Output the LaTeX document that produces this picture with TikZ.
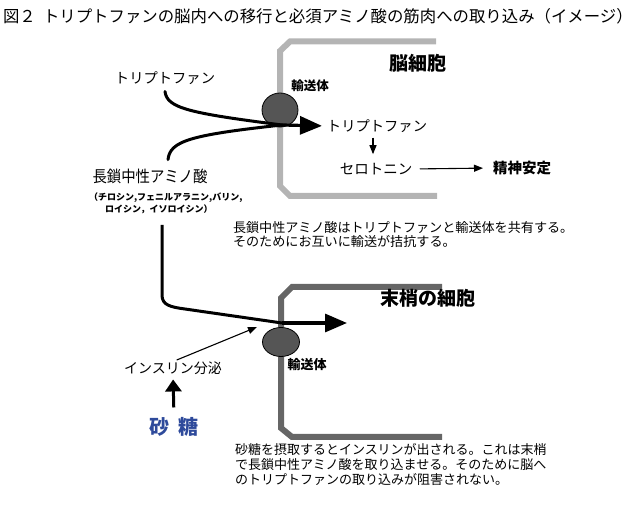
\documentclass[tikz,border=0pt]{standalone}
\usepackage{fontspec}
\setmainfont{Noto Sans CJK JP}
\newfontfamily\narrowcjk{Noto Sans CJK JP}[FakeStretch=0.9]
\usetikzlibrary{arrows.meta,shapes.geometric}
\definecolor{sugarblue}{HTML}{2E4A9B}
\definecolor{brainwall}{HTML}{B4B4B4}
\definecolor{periwall}{HTML}{666666}
\definecolor{carrier}{HTML}{555555}
\begin{document}
\begin{tikzpicture}[x=1pt,y=-1pt,
  lbl/.style={inner sep=0pt, outer sep=0pt},
  fs/.style={font=\fontsize{#1}{#1}\selectfont},
  wall/.style={line width=6pt, line cap=butt, line join=miter},
  carrierbox/.style={shape=ellipse, draw=black, line width=0.8pt, fill=carrier, inner sep=0pt},
  flow/.style={line width=3pt, line cap=round},
  bigarrow/.style={line width=3.2pt, -{Triangle[length=22pt,width=18pt]}},
  thinarrow/.style={line width=1.1pt, -{Triangle[length=9pt,width=7pt]}},
  uparrow/.style={line width=3pt, -{Triangle[length=12pt,width=16pt]}}
]
\useasboundingbox (0,0) rectangle (640,518);

% title
\node[lbl, fs=16.4, anchor=west] (fig) at (3,16.5) {図２};
\node[lbl, fs=16.4, anchor=west] (title) at (43,16.5) {トリプトファンの脳内への移行と必須アミノ酸の筋肉への取り込み（イメージ）};

% cell walls
\draw[wall, brainwall] (436,41.5) -- (290,41.5) -- (280,51) -- (280,186) -- (290,196) -- (437,196);
\draw[wall, periwall] (442,287) -- (292,287) -- (281,298) -- (281,428) -- (292,437) -- (442,437);

% transporters
\node[carrierbox, minimum width=36pt, minimum height=34pt] (tr1) at (280,110) {};
\node[carrierbox, minimum width=37pt, minimum height=29pt] (tr2) at (281,342) {};

% labels
\node[lbl, fs=14.3] (trpA) at (165,78) {トリプトファン};
\node[lbl, font=\narrowcjk\fontsize{16}{16}\selectfont] (lnaa) at (150,176) {長鎖中性アミノ酸};
\node[lbl, anchor=west, font=\fontsize{9}{9}\selectfont\bfseries] (lnaa1) at (89,197.5) {（チロシン,フェニルアラニン,バリン,};
\node[lbl, anchor=west, font=\fontsize{9}{9}\selectfont\bfseries] (lnaa2) at (105,209) {ロイシン，イソロイシン）};
\node[lbl, font=\fontsize{12.5}{12.5}\selectfont\bfseries] (carA) at (310,86) {輸送体};
\node[lbl, font=\fontsize{13}{13}\selectfont\bfseries] (carB) at (307,365) {輸送体};
\node[lbl, fs=14.3] (trpB) at (377,126) {トリプトファン};
\node[lbl, fs=14.5] (sero) at (376,169) {セロトニン};
\node[lbl, font=\fontsize{14.5}{14.5}\selectfont\bfseries] (calm) at (522,168) {精神安定};
\node[lbl, font=\fontsize{19}{19}\selectfont\bfseries] (brain) at (418,63) {脳細胞};
\node[lbl, anchor=west, font=\fontsize{19}{19}\selectfont\bfseries] (peri) at (380,298) {末梢の細胞};
\node[lbl, fs=14] (insulin) at (173,368) {インスリン分泌};
\node[lbl, font=\fontsize{20}{20}\selectfont\bfseries, text=sugarblue] (sugar) at (174,427) {砂\hspace{9pt}糖};

\node[lbl, anchor=north west, align=left, font=\fontsize{13.1}{14.5}\selectfont] (note1) at (233,221)
  {長鎖中性アミノ酸はトリプトファンと輸送体を共有する。\\そのためにお互いに輸送が拮抗する。};
\node[lbl, anchor=north west, align=left, font=\fontsize{13}{14.8}\selectfont] (note2) at (235,444)
  {砂糖を摂取するとインスリンが出される。これは末梢\\で長鎖中性アミノ酸を取り込ませる。そのために脳へ\\のトリプトファンの取り込みが阻害されない。};

% connectors (upper)
\coordinate (j1) at (282,125);
\draw[flow] ([yshift=-7pt]trpA.south) .. controls (167,108) and (188,113) .. (j1);
\draw[flow] ([xshift=18pt,yshift=9pt]lnaa.north) .. controls (170,141) and (190,135) .. (j1);
\draw[bigarrow, shorten >=5pt] (j1) -- (trpB.west);
\draw[thinarrow, shorten <=5pt, shorten >=9pt] ([xshift=-4pt]trpB.south) -- ([xshift=-3pt]sero.north);
\draw[thinarrow, shorten <=7.5pt, shorten >=10pt] (sero.east) -- (calm.west);

% connectors (lower)
\coordinate (lstart) at (162,225);
\coordinate (j2) at (282,323);
\coordinate (pend) at (347,323);
\draw[flow, line cap=butt] (lstart) -- (162,295) .. controls (162,305) and (170,307) .. (185,309) -- (j2);
\draw[bigarrow] (j2) -- (pend);
\coordinate (insend) at (257,327);
\draw[thinarrow, shorten <=4pt] (insulin.north) -- (insend);
\draw[uparrow, shorten <=10pt, shorten >=5pt] (sugar.north) -- (insulin.south);
\end{tikzpicture}
\end{document}
